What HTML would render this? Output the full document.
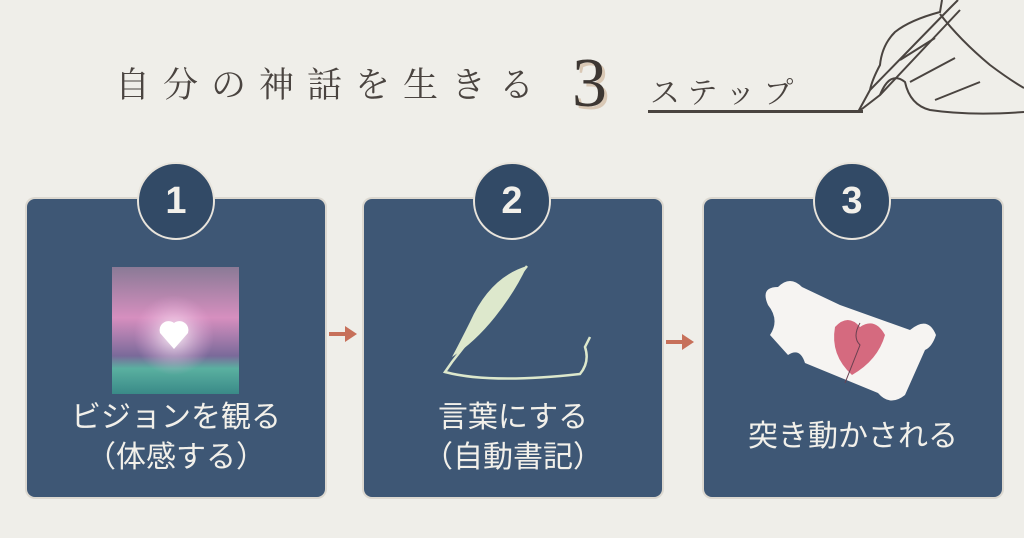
<!DOCTYPE html>
<html><head><meta charset="utf-8"><style>
body{margin:0;width:1024px;height:538px;background:#efeee9;position:relative;overflow:hidden;font-family:"Liberation Sans","Noto Sans CJK JP",sans-serif}
.box{position:absolute;top:199px;width:298px;height:298px;background:#3e5775;border-radius:8px;box-shadow:0 0 0 2px #dcd8d0}
.circ{position:absolute;top:162px;width:74px;height:74px;border-radius:50%;background:#324a66;border:2px solid #e8e4dc;color:#f2f0ea;font:bold 38px "Liberation Sans",sans-serif;text-align:center;line-height:74px}
.lab{position:absolute;width:298px;text-align:center;color:#f2f0ea;font-size:30px;line-height:40px}
.title{position:absolute;left:115px;top:58px;font-family:"Noto Serif CJK SC","Liberation Serif",serif;font-size:35px;color:#4a4440;letter-spacing:13px}
</style></head><body>
<div class="title">自分の神話を生きる</div>
<div style="position:absolute;left:572px;top:44px;font:70px 'Liberation Serif',serif;color:#3d3733;text-shadow:3px 3px 0 #d9c8b5">3</div>
<div style="position:absolute;left:650px;top:68px;font-family:'Noto Serif CJK SC',serif;font-size:30px;color:#4a4440;letter-spacing:8px">ステップ</div>
<div style="position:absolute;left:648px;top:110px;width:215px;height:3px;background:#4a4440"></div>
<svg style="position:absolute;left:850px;top:0" width="174" height="120" fill="none" stroke="#4a4440" stroke-width="2">
<path d="M8 112 L20 90 L100 8 L108 0 M8 112 L30 95 L110 10"/>
<path d="M92 0 L90 12 Q60 20 45 32 Q32 45 30 65 Q22 80 20 90"/>
<path d="M90 14 Q110 40 140 65 Q160 80 174 88"/>
<path d="M30 95 Q40 70 55 82 Q60 105 80 110 Q120 116 174 112"/>
<path d="M50 60 L85 38 M60 82 L105 58 M85 100 L130 82"/>
</svg>

<div class="box" style="left:27px"></div>
<div class="box" style="left:364px"></div>
<div class="box" style="left:704px"></div>
<div class="circ" style="left:137px">1</div>
<div class="circ" style="left:473px">2</div>
<div class="circ" style="left:813px">3</div>

<svg style="position:absolute;left:112px;top:267px" width="127" height="127">
<defs><linearGradient id="g" x1="0" y1="0" x2="0" y2="1"><stop offset="0" stop-color="#8a7a96"/><stop offset=".4" stop-color="#d68fbf"/><stop offset=".7" stop-color="#7a6a9a"/><stop offset=".8" stop-color="#5ab0a0"/><stop offset="1" stop-color="#3a8a88"/></linearGradient>
<radialGradient id="r"><stop offset="0" stop-color="#fff" stop-opacity=".9"/><stop offset="1" stop-color="#f0b0e0" stop-opacity="0"/></radialGradient></defs>
<rect width="127" height="127" fill="url(#g)"/><circle cx="62" cy="68" r="40" fill="url(#r)"/>
<path d="M62 82 L48 66 A9 9 0 0 1 62 56 A9 9 0 0 1 76 66 Z" fill="#fff"/></svg>

<svg style="position:absolute;left:430px;top:262px" width="170" height="120" fill="none">
<path d="M97 4 Q60 15 40 60 Q30 80 22 95 Q45 80 65 55 Q85 30 97 4Z" fill="#dde8cc"/>
<path d="M97 4 L22 100 L15 110 Q60 122 150 112 Q160 100 155 85 L160 75" stroke="#dde8cc" stroke-width="2.5"/></svg>

<svg style="position:absolute;left:760px;top:275px" width="180" height="135">
<g fill="#f6f4f2">
<path d="M8 30 Q0 12 18 12 Q30 0 42 12 L80 30 L150 55 Q168 40 176 60 Q172 72 165 75 L145 120 Q130 132 118 118 L45 88 Q40 72 28 80 L10 60 Q20 45 8 30Z"/>
</g>
<path d="M75 52 Q88 38 100 52 Q115 42 125 60 Q118 85 92 100 Q70 80 75 52Z" fill="#d56a7f"/><path d="M100 48 Q92 62 100 70 L85 108" stroke="#6a4050" stroke-width="1" fill="none"/></svg>

<div class="lab" style="left:27px;top:398px">ビジョンを観る<br>（体感する）</div>
<div class="lab" style="left:364px;top:398px">言葉にする<br>（自動書記）</div>
<div class="lab" style="left:704px;top:417px">突き動かされる</div>

<svg style="position:absolute;left:327px;top:322px" width="36" height="24"><path d="M2 12 H22" stroke="#c7705a" stroke-width="4"/><path d="M18 4 L30 12 L18 20Z" fill="#c7705a"/></svg>
<svg style="position:absolute;left:664px;top:330px" width="36" height="24"><path d="M2 12 H22" stroke="#c7705a" stroke-width="4"/><path d="M18 4 L30 12 L18 20Z" fill="#c7705a"/></svg>
</body></html>
